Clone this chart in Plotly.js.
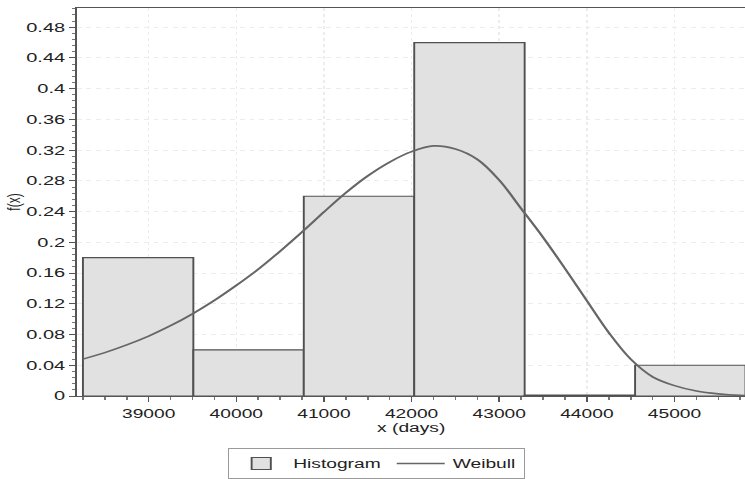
<!DOCTYPE html>
<html>
<head>
<meta charset="utf-8">
<script src="https://cdn.plot.ly/plotly-3.0.1.min.js"></script>
<style>
  html, body { margin: 0; padding: 0; background: #ffffff; overflow: hidden; }
  #chart { width: 465.625px; height: 479px; transform: scaleX(1.6); transform-origin: 0 0; }
</style>
</head>
<body>
<div id="chart"></div>
<script>
// Histogram: bin edges (days) and relative-frequency heights
const binEdges = [38250, 39510, 40770, 42030, 43290, 44550, 45810];
const binHeights = [0.18, 0.06, 0.26, 0.46, 0.0012, 0.04];

// Weibull curve points
const curveX = [38250, 38500, 38750, 39000, 39250, 39500, 39750, 40000, 40250, 40500, 40750, 41000, 41250, 41500, 41750, 42000, 42250, 42500, 42750, 43000, 43250, 43500, 43750, 44000, 44250, 44500, 44750, 45000, 45250, 45500, 45750, 46000];
const curveY = [0.048, 0.0565, 0.0665, 0.078, 0.0915, 0.107, 0.1245, 0.144, 0.165, 0.1885, 0.2135, 0.2395, 0.2645, 0.2865, 0.3045, 0.318, 0.3255, 0.3215, 0.308, 0.281, 0.244, 0.2065, 0.166, 0.124, 0.0825, 0.048, 0.025, 0.0135, 0.0065, 0.0028, 0.0008, 0.0003];

const seriesNames = ["Histogram", "Weibull"];
const xTitle = "x (days)";
const yTitle = "f(x)";

const centers = binHeights.map((_, i) => (binEdges[i] + binEdges[i + 1]) / 2);
const widths = binHeights.map((_, i) => binEdges[i + 1] - binEdges[i]);

const textColor = "#222222";
const font = { family: "Liberation Sans, Arial, sans-serif", size: 12, color: textColor };

const traces = [
  {
    type: "bar",
    name: seriesNames[0],
    x: centers,
    y: binHeights,
    width: widths,
    marker: { color: "#e1e1e1", line: { color: "#505050", width: 1.2 } },
    hoverinfo: "x+y"
  },
  {
    type: "scatter",
    mode: "lines",
    name: seriesNames[1],
    x: curveX,
    y: curveY,
    line: { color: "#666666", width: 1.6, shape: "spline", smoothing: 1 },
    cliponaxis: true
  }
];

const layout = {
  width: 465.625,
  height: 479,
  margin: { l: 48.1, r: 0, t: 8, b: 82, pad: 0 },
  paper_bgcolor: "#ffffff",
  plot_bgcolor: "#ffffff",
  font: font,
  showlegend: true,
  bargap: 0,
  legend: {
    orientation: "h",
    x: 0.448, xanchor: "center",
    y: -0.135, yanchor: "top",
    bgcolor: "#ffffff",
    bordercolor: "#9a9a9a",
    borderwidth: 1,
    font: { family: font.family, size: 12, color: textColor },
    itemwidth: 30,
    tracegroupgap: 0
  },
  xaxis: {
    range: [38180, 45811],
    tickmode: "linear",
    tick0: 39000,
    dtick: 1000,
    tickformat: "d",
    ticks: "outside",
    ticklen: 5,
    tickcolor: "#555555",
    ticklabelstandoff: 2,
    showline: true,
    linecolor: "#555555",
    linewidth: 1,
    mirror: true,
    showgrid: true,
    gridcolor: "#ececec",
    griddash: "dot",
    gridwidth: 1,
    zeroline: false,
    minor: { dtick: 250, ticks: "outside", ticklen: 3, tickcolor: "#777777", showgrid: false },
    tickfont: { family: font.family, size: 12, color: textColor },
    title: { text: xTitle, font: { family: font.family, size: 12, color: textColor }, standoff: 3 }
  },
  yaxis: {
    range: [0, 0.505],
    tickmode: "linear",
    tick0: 0,
    dtick: 0.04,
    ticks: "outside",
    ticklen: 3.8,
    tickcolor: "#555555",
    showline: true,
    linecolor: "#555555",
    linewidth: 1,
    mirror: true,
    showgrid: true,
    gridcolor: "#ececec",
    griddash: "dot",
    gridwidth: 1,
    zeroline: false,
    minor: { dtick: 0.008, ticks: "outside", ticklen: 2, tickcolor: "#777777", showgrid: false },
    tickfont: { family: font.family, size: 12.5, color: textColor },
    title: { text: yTitle, font: { family: font.family, size: 12, color: textColor }, standoff: 0 }
  }
};

Plotly.newPlot("chart", traces, layout, { displayModeBar: false, staticPlot: true });
</script>
</body>
</html>
